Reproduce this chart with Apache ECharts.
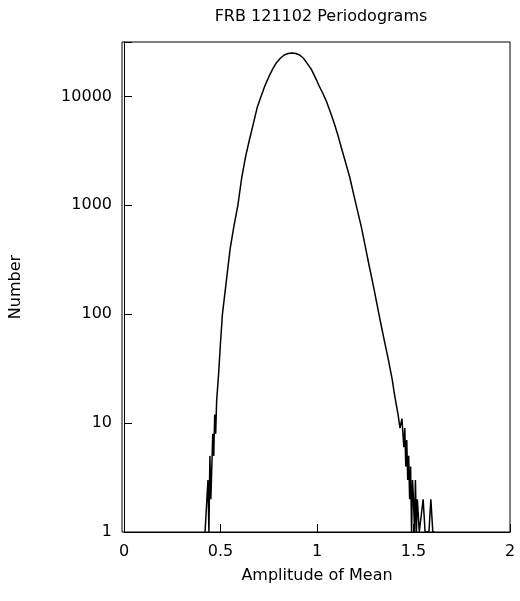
<!DOCTYPE html>
<html><head><meta charset="utf-8">
<script src="https://cdn.jsdelivr.net/npm/echarts@6/dist/echarts.min.js"></script>
<style>body{margin:0;background:#fff}#c{width:520px;height:601px}</style>
</head><body><div id="c"></div>
<script>
// bin centres (amplitude of mean) and counts
var amp = [0.42,0.43,0.435,0.44,0.445,0.45,0.455,0.46,0.465,0.47,0.475,0.48,0.49,0.50,0.51,0.53,0.55,0.57,0.59,0.61,0.63,0.65,0.67,0.69,0.71,0.73,0.75,0.77,0.79,0.81,0.83,0.85,0.87,0.89,0.91,0.93,0.95,0.97,0.99,1.01,1.03,1.05,1.07,1.09,1.11,1.13,1.15,1.17,1.19,1.21,1.23,1.25,1.27,1.29,1.31,1.33,1.35,1.37,1.39,1.40,1.41,1.42,1.43,1.44,1.45,1.455,1.46,1.465,1.47,1.475,1.48,1.485,1.49,1.495,1.50,1.505,1.51,1.515,1.52,1.53,1.54,1.55,1.56,1.57,1.58,1.59,1.60,1.61];
var counts = [1,1,3,1,5,2,4,8,5,12,8,16,28,55,100,200,400,650,1000,1800,2800,4000,5600,7900,10000,12500,15100,17800,20400,22400,24000,24800,25100,24800,24000,22400,20000,17800,15100,12600,10700,8900,7100,5600,4300,3200,2400,1800,1260,890,630,420,280,190,126,83,56,38,25,19,15,12,9,11,6,9,4,7,3,5,2,4,1,3,2,1,3,1,2,1,1,2,1,1,1,2,1,1];
var xTicks = [0,0.5,1,1.5,2];
var yTicks = [1,10,100,1000,10000];

var chart = echarts.init(document.getElementById('c'));
chart.setOption({
  animation: false,
  title: {text: 'FRB 121102 Periodograms', left: 316, top: 4, textAlign: 'center',
    textStyle: {fontFamily: 'DejaVu Sans', fontWeight: 'normal', fontSize: 16, color: '#000'}},
  grid: {left: 122, right: 10, top: 42, bottom: 69},
  xAxis: {type: 'value', min: 0, max: 2, interval: 0.5, name: 'Amplitude of Mean',
    nameLocation: 'middle', nameGap: 36,
    nameTextStyle: {fontFamily: 'DejaVu Sans', fontSize: 16, color: '#000'},
    axisLine: {lineStyle: {color: '#000'}}, axisTick: {inside: true, length: 8, lineStyle: {color: '#000'}},
    axisLabel: {fontFamily: 'DejaVu Sans', fontSize: 16, color: '#000', margin: 12,
      formatter: function (v) { return xTicks.indexOf(v) >= 0 ? String(v) : ''; }},
    splitLine: {show: false}},
  yAxis: {type: 'log', logBase: 10, min: 1, max: 31600, name: 'Number',
    nameLocation: 'middle', nameGap: 100,
    nameTextStyle: {fontFamily: 'DejaVu Sans', fontSize: 16, color: '#000'},
    axisLine: {lineStyle: {color: '#000'}}, axisTick: {inside: true, length: 8, lineStyle: {color: '#000'}},
    axisLabel: {fontFamily: 'DejaVu Sans', fontSize: 16, color: '#000', margin: 12,
      formatter: function (v) { return yTicks.indexOf(Math.round(v)) >= 0 ? String(Math.round(v)) : ''; }},
    splitLine: {show: false}},
  series: [{type: 'line', symbol: 'none',
    lineStyle: {color: '#000', width: 1.5},
    data: amp.map(function (a, i) { return [a, counts[i]]; })}]
});
// plot frame
chart.setOption({graphic: [{type: 'rect', shape: {x: 122, y: 42, width: 388, height: 490},
  style: {fill: 'none', stroke: '#000', lineWidth: 1}, silent: true}]});
</script></body></html>
